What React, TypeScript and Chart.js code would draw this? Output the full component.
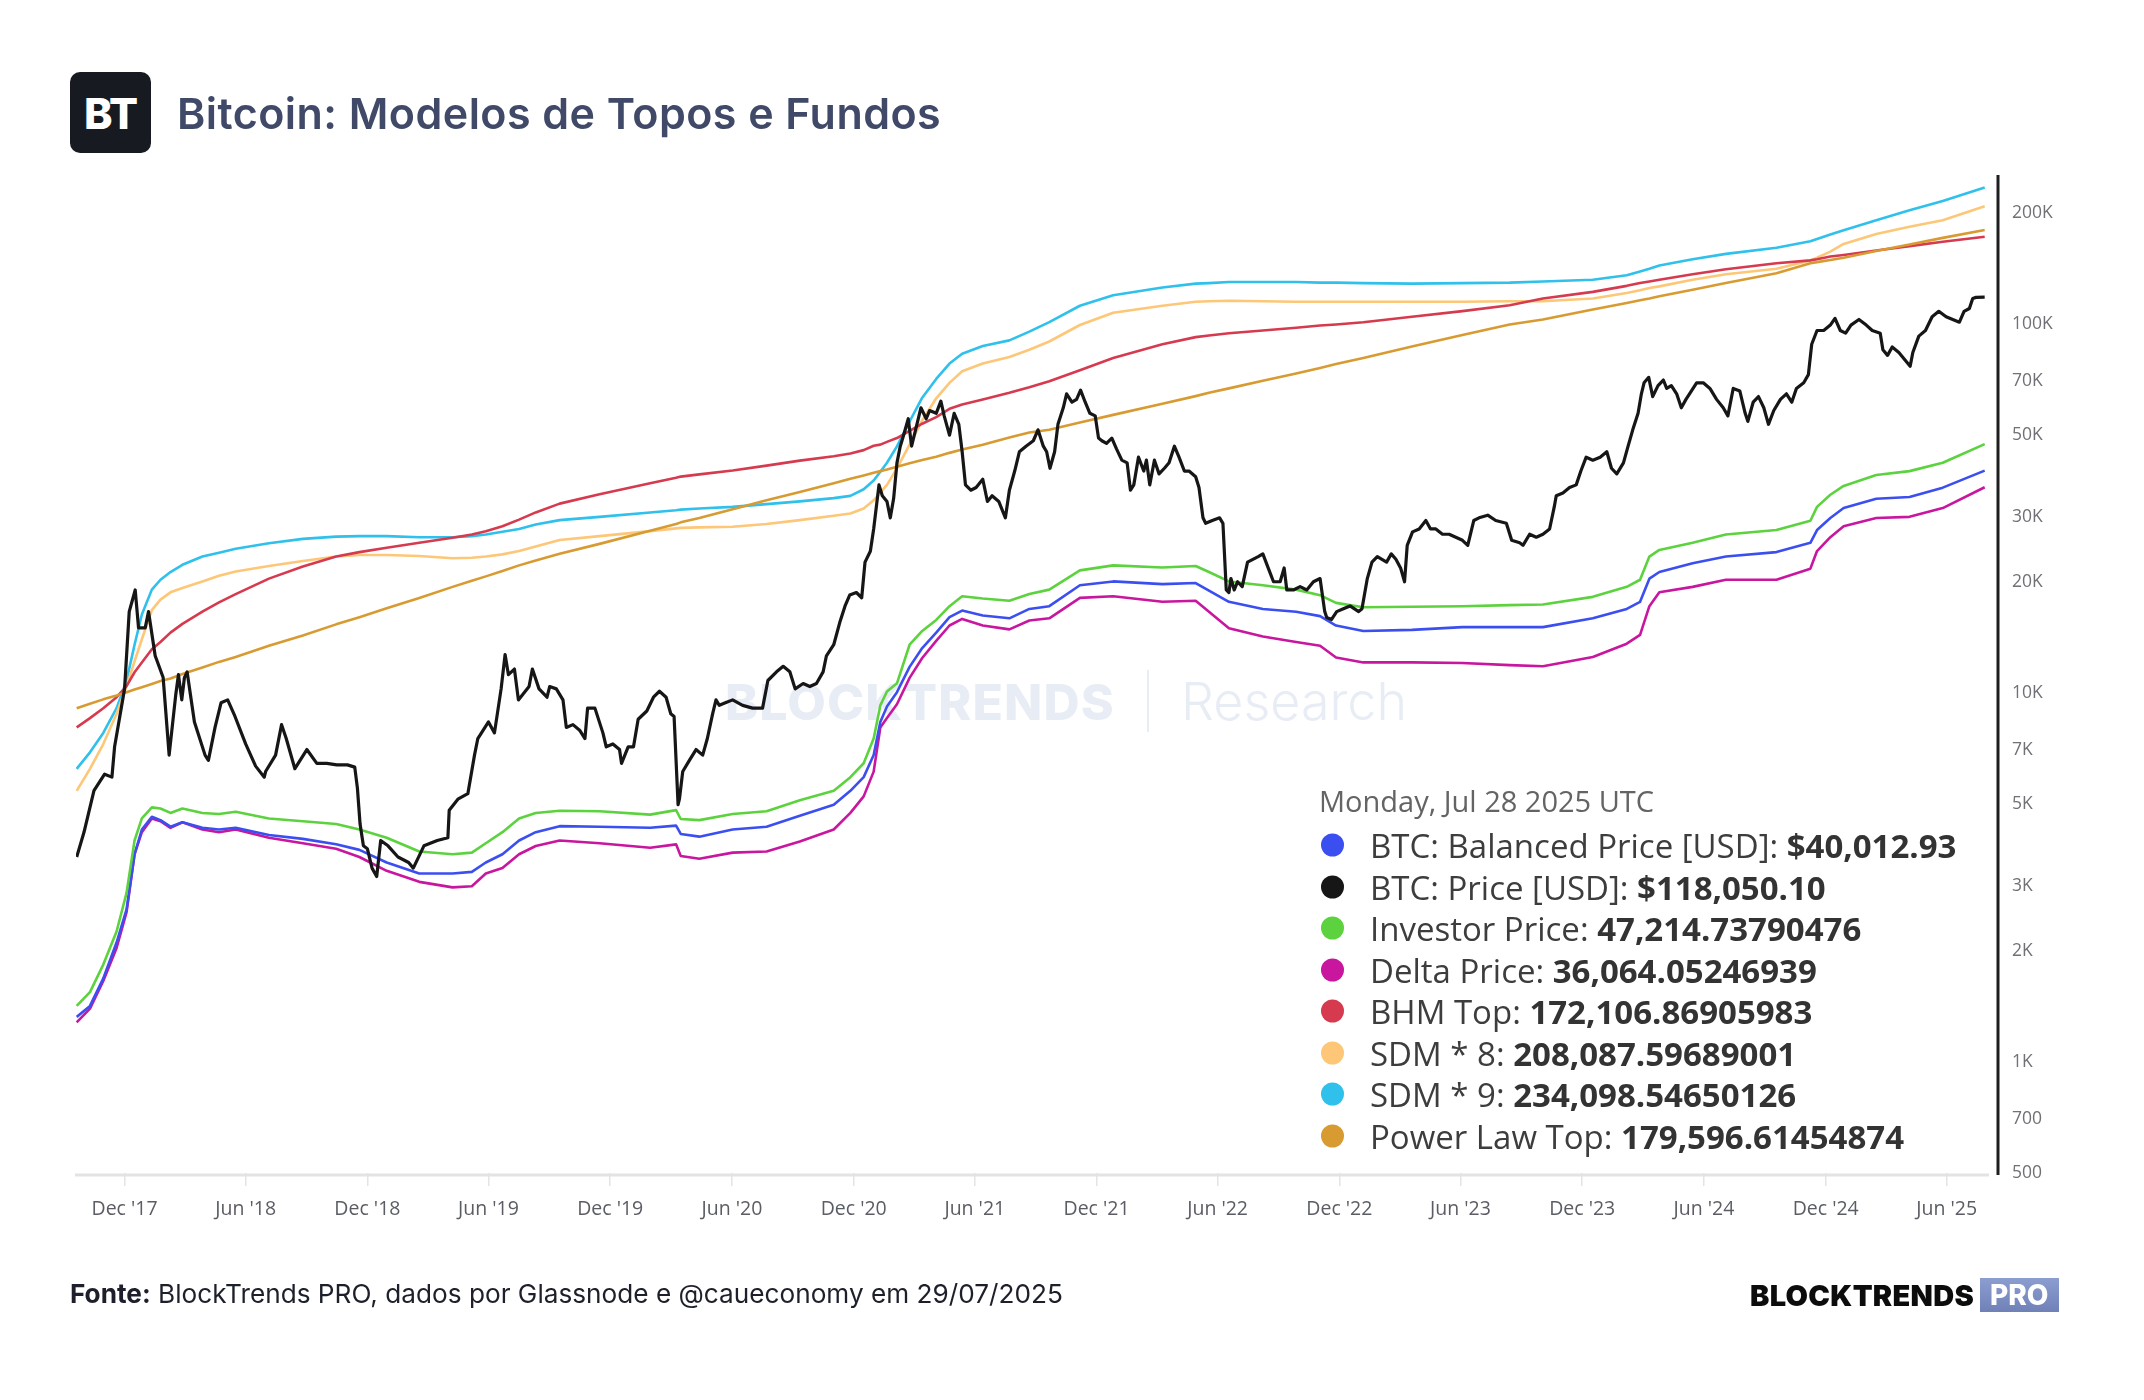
import React, { useEffect, useRef } from "react";
import { Chart, registerables } from "chart.js";

Chart.register(...registerables);

// ---------------- DATA ----------------
const btcPrice: [string, number][] = [
  ["2017-09-20", 3590], ["2017-10-01", 4190], ["2017-10-16", 5430], ["2017-11-01", 6020], ["2017-11-12", 5910],
  ["2017-11-16", 7140], ["2017-12-01", 10250], ["2017-12-08", 16600], ["2017-12-17", 19000], ["2017-12-22", 15000],
  ["2018-01-01", 15000], ["2018-01-06", 16600], ["2018-01-16", 12600], ["2018-01-28", 11000], ["2018-02-06", 6780],
  ["2018-02-16", 9900], ["2018-02-20", 11200], ["2018-02-25", 9570], ["2018-03-01", 11000], ["2018-03-05", 11400],
  ["2018-03-16", 8340], ["2018-04-01", 6780], ["2018-04-06", 6560], ["2018-04-16", 8060], ["2018-04-25", 9400],
  ["2018-05-05", 9570], ["2018-05-16", 8630], ["2018-06-01", 7270], ["2018-06-16", 6330], ["2018-06-29", 5910],
  ["2018-07-01", 6120], ["2018-07-16", 6780], ["2018-07-25", 8200], ["2018-08-01", 7520], ["2018-08-14", 6230],
  ["2018-09-01", 7020], ["2018-09-16", 6440], ["2018-10-01", 6440], ["2018-10-16", 6380], ["2018-11-01", 6380],
  ["2018-11-12", 6290], ["2018-11-16", 5520], ["2018-11-20", 4410], ["2018-11-25", 3850], ["2018-12-01", 3780],
  ["2018-12-08", 3350], ["2018-12-15", 3180], ["2018-12-21", 3980], ["2019-01-01", 3850], ["2019-01-16", 3590],
  ["2019-02-01", 3470], ["2019-02-08", 3350], ["2019-02-24", 3850], ["2019-03-16", 3980], ["2019-04-01", 4050],
  ["2019-04-03", 4810], ["2019-04-16", 5150], ["2019-05-01", 5330], ["2019-05-11", 6780], ["2019-05-16", 7520],
  ["2019-06-01", 8340], ["2019-06-10", 7790], ["2019-06-20", 10250], ["2019-06-26", 12700], ["2019-07-01", 11200],
  ["2019-07-10", 11600], ["2019-07-16", 9570], ["2019-08-01", 10400], ["2019-08-06", 11600], ["2019-08-16", 10250],
  ["2019-08-28", 9730], ["2019-09-01", 10400], ["2019-09-11", 10250], ["2019-09-21", 9570], ["2019-09-26", 8060],
  ["2019-10-06", 8200], ["2019-10-16", 7920], ["2019-10-24", 7520], ["2019-10-28", 9090], ["2019-11-08", 9090],
  ["2019-11-20", 7790], ["2019-11-25", 7140], ["2019-12-05", 7270], ["2019-12-15", 7020], ["2019-12-18", 6440],
  ["2019-12-28", 7140], ["2020-01-05", 7140], ["2020-01-12", 8480], ["2020-01-25", 8930], ["2020-02-04", 9730],
  ["2020-02-13", 10100], ["2020-02-23", 9730], ["2020-03-01", 8780], ["2020-03-06", 8630], ["2020-03-12", 4980],
  ["2020-03-14", 5150], ["2020-03-19", 6120], ["2020-03-29", 6560], ["2020-04-08", 7020], ["2020-04-18", 6780],
  ["2020-04-25", 7520], ["2020-05-03", 8780], ["2020-05-08", 9570], ["2020-05-13", 9250], ["2020-05-23", 9410],
  ["2020-06-02", 9570], ["2020-06-17", 9250], ["2020-07-02", 9090], ["2020-07-17", 9090], ["2020-07-25", 10800],
  ["2020-08-07", 11400], ["2020-08-17", 11800], ["2020-08-27", 11400], ["2020-09-04", 10250], ["2020-09-16", 10600],
  ["2020-09-26", 10400], ["2020-10-06", 10600], ["2020-10-16", 11400], ["2020-10-21", 12600], ["2020-11-01", 13500],
  ["2020-11-10", 15500], ["2020-11-18", 17200], ["2020-11-25", 18400], ["2020-12-05", 18700], ["2020-12-13", 18100],
  ["2020-12-18", 22600], ["2020-12-26", 24200], ["2020-12-31", 27800], ["2021-01-08", 36600], ["2021-01-13", 34200],
  ["2021-01-20", 33000], ["2021-01-25", 29800], ["2021-01-30", 33600], ["2021-02-04", 42000], ["2021-02-09", 46600],
  ["2021-02-14", 49900], ["2021-02-21", 55300], ["2021-02-26", 46600], ["2021-03-04", 51600], ["2021-03-12", 59200],
  ["2021-03-20", 55300], ["2021-03-25", 58200], ["2021-04-04", 57200], ["2021-04-11", 61700], ["2021-04-16", 56300],
  ["2021-04-24", 49900], ["2021-05-01", 57200], ["2021-05-08", 53400], ["2021-05-13", 45000], ["2021-05-18", 36600],
  ["2021-05-26", 35400], ["2021-06-03", 36000], ["2021-06-13", 37900], ["2021-06-20", 33000], ["2021-06-27", 34200],
  ["2021-07-07", 33000], ["2021-07-17", 29800], ["2021-07-23", 35400], ["2021-07-31", 39900], ["2021-08-07", 45000],
  ["2021-08-17", 46600], ["2021-08-28", 48200], ["2021-09-04", 51600], ["2021-09-12", 46600], ["2021-09-17", 45000],
  ["2021-09-22", 40600], ["2021-09-29", 45000], ["2021-10-04", 53400], ["2021-10-12", 59200], ["2021-10-17", 64600],
  ["2021-10-25", 61300], ["2021-11-01", 62400], ["2021-11-07", 66100], ["2021-11-14", 61300], ["2021-11-21", 57200],
  ["2021-11-29", 56300], ["2021-12-04", 49000], ["2021-12-09", 48200], ["2021-12-16", 47400], ["2021-12-24", 49000],
  ["2021-12-31", 45800], ["2022-01-08", 42700], ["2022-01-16", 42000], ["2022-01-21", 35400], ["2022-01-26", 36600],
  ["2022-02-02", 43500], ["2022-02-10", 39900], ["2022-02-14", 42700], ["2022-02-19", 36600], ["2022-02-26", 42700],
  ["2022-03-05", 39200], ["2022-03-13", 40600], ["2022-03-20", 42000], ["2022-03-28", 46600], ["2022-04-04", 43500],
  ["2022-04-12", 39900], ["2022-04-19", 39900], ["2022-04-29", 38500], ["2022-05-04", 36000], ["2022-05-10", 29800],
  ["2022-05-14", 28800], ["2022-05-24", 29300], ["2022-06-04", 29800], ["2022-06-09", 28800], ["2022-06-14", 19000],
  ["2022-06-18", 18700], ["2022-06-21", 20400], ["2022-06-26", 19000], ["2022-07-01", 20000], ["2022-07-08", 19400],
  ["2022-07-16", 22600], ["2022-07-24", 23000], ["2022-08-01", 23400], ["2022-08-08", 23800], ["2022-08-16", 21800],
  ["2022-08-24", 20000], ["2022-09-03", 20000], ["2022-09-09", 21800], ["2022-09-13", 19000], ["2022-09-23", 19000],
  ["2022-10-03", 19400], ["2022-10-13", 19000], ["2022-10-23", 20000], ["2022-11-02", 20400], ["2022-11-09", 16600],
  ["2022-11-12", 16000], ["2022-11-19", 15800], ["2022-11-27", 16600], ["2022-12-07", 16900], ["2022-12-17", 17200],
  ["2022-12-30", 16600], ["2023-01-04", 16900], ["2023-01-12", 20400], ["2023-01-19", 22600], ["2023-01-27", 23400],
  ["2023-02-03", 23000], ["2023-02-10", 22600], ["2023-02-17", 23800], ["2023-02-24", 23000], ["2023-03-03", 21800],
  ["2023-03-09", 20000], ["2023-03-13", 25100], ["2023-03-21", 27300], ["2023-03-31", 27800], ["2023-04-10", 29300],
  ["2023-04-17", 27800], ["2023-04-25", 27800], ["2023-05-05", 26900], ["2023-05-15", 26900], ["2023-05-25", 26400],
  ["2023-06-04", 25900], ["2023-06-12", 25100], ["2023-06-21", 29300], ["2023-06-29", 29800], ["2023-07-12", 30300],
  ["2023-07-24", 29300], ["2023-08-09", 28800], ["2023-08-17", 25900], ["2023-08-29", 25500], ["2023-09-03", 25100],
  ["2023-09-13", 26900], ["2023-09-23", 26400], ["2023-10-03", 26900], ["2023-10-13", 27800], ["2023-10-20", 31900],
  ["2023-10-23", 34200], ["2023-11-02", 34800], ["2023-11-12", 36000], ["2023-11-22", 36600], ["2023-11-29", 39900],
  ["2023-12-07", 43500], ["2023-12-17", 42700], ["2023-12-28", 43500], ["2024-01-07", 45000], ["2024-01-14", 40600],
  ["2024-01-22", 39200], ["2024-02-01", 42000], ["2024-02-08", 46600], ["2024-02-15", 51600], ["2024-02-23", 57200],
  ["2024-02-28", 64600], ["2024-03-03", 69200], ["2024-03-10", 71600], ["2024-03-16", 63500], ["2024-03-24", 68000],
  ["2024-04-01", 70400], ["2024-04-06", 66800], ["2024-04-13", 68000], ["2024-04-21", 64600], ["2024-04-28", 59200],
  ["2024-05-05", 62400], ["2024-05-13", 65700], ["2024-05-21", 69200], ["2024-05-31", 69200], ["2024-06-10", 66800],
  ["2024-06-20", 62400], ["2024-06-30", 59200], ["2024-07-07", 56300], ["2024-07-15", 66800], ["2024-07-25", 65700],
  ["2024-08-02", 57200], ["2024-08-06", 54400], ["2024-08-14", 61300], ["2024-08-22", 63500], ["2024-08-30", 59200],
  ["2024-09-06", 53400], ["2024-09-14", 58200], ["2024-09-24", 62400], ["2024-10-03", 64600], ["2024-10-11", 61300],
  ["2024-10-18", 66800], ["2024-10-29", 69200], ["2024-11-05", 72800], ["2024-11-10", 88000], ["2024-11-18", 95900],
  ["2024-11-28", 95900], ["2024-12-08", 99200], ["2024-12-15", 103400], ["2024-12-23", 95900], ["2024-12-31", 94300],
  ["2025-01-08", 99200], ["2025-01-20", 102700], ["2025-01-31", 99200], ["2025-02-09", 95900], ["2025-02-21", 94300],
  ["2025-02-25", 85000], ["2025-03-04", 82100], ["2025-03-11", 86500], ["2025-03-21", 83600], ["2025-04-07", 76700],
  ["2025-04-11", 83600], ["2025-04-20", 92600], ["2025-04-30", 95900], ["2025-05-10", 104500], ["2025-05-20", 108100],
  ["2025-05-31", 104500], ["2025-06-10", 102700], ["2025-06-20", 101000], ["2025-06-27", 108100], ["2025-07-05", 110000],
  ["2025-07-10", 117100], ["2025-07-15", 117900], ["2025-07-28", 118050.1],
];

const modelDates = [
  "2017-09-20", "2017-10-10", "2017-10-30", "2017-11-19", "2017-12-04", "2017-12-16", "2017-12-27", "2018-01-11",
  "2018-01-24", "2018-02-08", "2018-02-26", "2018-03-28", "2018-04-22", "2018-05-17", "2018-07-06", "2018-08-26",
  "2018-10-15", "2018-11-19", "2018-12-30", "2019-02-17", "2019-04-08", "2019-05-07", "2019-05-28", "2019-06-22",
  "2019-07-17", "2019-08-11",
  "2019-09-16", "2019-11-15", "2020-01-30", "2020-03-09", "2020-03-16", "2020-04-13", "2020-06-02", "2020-07-23",
  "2020-09-11", "2020-11-01", "2020-11-26", "2020-12-16", "2020-12-31", "2021-01-10", "2021-01-20", "2021-02-04",
  "2021-02-23", "2021-03-14", "2021-04-04", "2021-04-24", "2021-05-13", "2021-06-13", "2021-07-23", "2021-08-22",
  "2021-09-21", "2021-11-06", "2021-12-26", "2022-03-10", "2022-04-29", "2022-05-19", "2022-06-18", "2022-08-08",
  "2022-09-27", "2022-11-02", "2022-11-26", "2023-01-06", "2023-03-20", "2023-06-04", "2023-08-14",
  "2023-10-03", "2023-12-17", "2024-02-06", "2024-02-26", "2024-03-11", "2024-03-26", "2024-05-15", "2024-07-04",
  "2024-09-18", "2024-11-08", "2024-11-18", "2024-12-08", "2024-12-28", "2025-02-15", "2025-04-06", "2025-05-26",
  "2025-07-28",
];

const balancedPrice = [
  1324, 1418, 1684, 2106, 2590, 3653, 4263, 4615, 4520, 4338, 4459, 4308, 4263, 4308, 4119, 4021, 3886, 3754, 3470,
  3239, 3239, 3272, 3470, 3653, 3981, 4192,
  4353, 4338, 4308, 4368, 4147, 4077, 4263, 4338, 4647, 4977, 5426, 5910, 6785, 8340, 9182, 10040, 11760, 13220,
  14560, 16030, 16710, 16200, 15920, 16880,
  17170, 19570, 20040, 19710, 19840, 18910, 17650, 16880, 16590, 16140, 15220, 14710, 14810, 15070, 15070,
  15070, 15920, 16880, 17650, 20390, 21250, 22450, 23400, 24060, 25500, 27610, 29780, 31670, 33580, 33930, 35970,
  40012.93,
];

const investorPrice = [
  1418, 1546, 1835, 2256, 2871, 3981, 4567, 4893, 4860, 4727, 4860, 4727, 4694, 4760, 4567, 4489, 4412, 4263, 4049,
  3715, 3653, 3690, 3912, 4192, 4567, 4727,
  4793, 4777, 4678, 4810, 4551, 4520, 4694, 4777, 5117, 5426, 5910, 6445, 7521, 9246, 10080, 10610, 13500, 14710,
  15760, 17170, 18270, 18020, 17770, 18520,
  19040, 21470, 22150, 21850, 22070, 21250, 20040, 19570, 19040, 18390, 17530, 17050, 17110, 17170, 17290,
  17350, 18200, 19370, 20250, 23400, 24390, 25500, 26850, 27610, 29270, 31900, 34410, 36360, 38940, 39880, 42010,
  47214.73790476,
];

const deltaPrice = [
  1279, 1394, 1656, 2035, 2545, 3653, 4192, 4567, 4489, 4308, 4459, 4263, 4192, 4263, 4049, 3912, 3780, 3591, 3294,
  3075, 2971, 2992, 3239, 3352, 3653, 3846,
  3981, 3912, 3806, 3886, 3615, 3553, 3690, 3715, 3953, 4263, 4727, 5242, 6117, 8057, 8541, 9310, 10980, 12430,
  13830, 15220, 15860, 15220, 14860, 15700,
  15920, 18080, 18270, 17650, 17770, 16590, 14970, 14210, 13730, 13410, 12470, 12090, 12090, 12050, 11890,
  11800, 12510, 13590, 14360, 17170, 18720, 19370, 20250, 20250, 21700, 24220, 26410, 28280, 29780, 29980, 31670,
  36064.05246939,
];

const bhmTop = [
  8057, 8541, 9087, 9735, 10430, 11370, 12090, 13130, 13730, 14560, 15380, 16590, 17590, 18520, 20390, 22000, 23400,
  24060, 24730, 25500, 26310, 26850, 27420, 28280, 29470, 30820,
  32560, 34520, 36980, 38270, 38540, 39070, 40020, 41280, 42580, 43770, 44530, 45460, 46720, 47040, 47860, 49030,
  51270, 53610, 55870, 58830, 60470, 62370, 65010, 67280,
  69870, 74850, 80750, 87990, 92000, 92970, 94260, 95900, 97540, 98900, 99590, 101000, 104500, 108200, 112300,
  117100, 122000, 126700, 128900, 130200, 131600, 136200, 140500, 145900, 148500, 149500, 152100, 153600, 157900,
  162300, 166800, 172106.86905983,
];

const sdm8 = [
  5426, 6225, 7265, 8780, 10430, 12170, 13970, 16760, 17890, 18720, 19240, 20040, 20750, 21320, 22070, 22760, 23400,
  23640, 23640, 23480, 23160, 23240, 23400, 23720, 24220, 24900,
  25950, 26580, 27420, 27900, 27990, 28080, 28180, 28670, 29370, 30190, 30610, 31570, 33240, 34880, 36600, 40580,
  47040, 54730, 62810, 69150, 74330, 78030, 81310, 85030,
  89530, 99240, 107100, 111900, 114700, 115100, 115500, 115100, 114700, 114700, 114700, 114700, 114700, 114700, 115100,
  115100, 117100, 121200, 123300, 125000, 126300, 131600, 136200, 141000, 148500, 151000, 156800, 164600, 175100,
  183100, 190800, 208087.59689001,
];

const sdm9 = [
  6225, 6900, 7785, 9090, 10790, 13500, 16310, 19040, 20250, 21250, 22230, 23400, 23970, 24560, 25420, 26130, 26500,
  26580, 26580, 26410, 26410, 26580, 26850, 27320, 27800, 28570,
  29370, 29980, 30820, 31250, 31360, 31570, 31900, 32450, 33020, 33700, 34170, 35610, 37620, 39740, 42010, 46560,
  54360, 63040, 70870, 78030, 82990, 87090, 90150, 95240,
  101000, 111900, 119500, 125400, 128500, 128900, 129800, 129800, 129800, 129300, 129300, 128900, 128500, 128900, 129300,
  130200, 131600, 135300, 138600, 141000, 143900, 149500, 154700, 160700, 167400, 169800, 174500, 179300, 190800,
  203000, 215200, 234098.54650126,
];

const powerLawTop = [
  9087, 9342, 9601, 9836, 10040, 10210, 10360, 10570, 10760, 10940, 11250, 11720, 12130, 12510, 13410, 14310, 15330,
  16030, 16940, 18080, 19370, 20120, 20680, 21400, 22150, 22850,
  23810, 25330, 27510, 28670, 28970, 29780, 31460, 33240, 35000, 36980, 38010, 38810, 39470, 39880, 40300, 41000,
  41860, 42730, 43630, 44690, 45620, 47040, 49200, 50750,
  51630, 53980, 56640, 60680, 63680, 65010, 66830, 70110, 73320, 75890, 77760, 80750, 86790, 93280, 99590,
  102700, 109300, 113900, 115800, 117100, 118700, 123700, 128900, 137100, 145900, 146900, 148900, 151000, 157400,
  164000, 170900, 179596.61454874,
];

const xTickDates = [
  "2017-12-01", "2018-06-01", "2018-12-01", "2019-06-01", "2019-12-01", "2020-06-01", "2020-12-01", "2021-06-01",
  "2021-12-01", "2022-06-01", "2022-12-01", "2023-06-01", "2023-12-01", "2024-06-01", "2024-12-01", "2025-06-01",
];
const xTickLabels = [
  "Dec '17", "Jun '18", "Dec '18", "Jun '19", "Dec '19", "Jun '20", "Dec '20", "Jun '21",
  "Dec '21", "Jun '22", "Dec '22", "Jun '23", "Dec '23", "Jun '24", "Dec '24", "Jun '25",
];
const yTickValues = [500, 700, 1000, 2000, 3000, 5000, 7000, 10000, 20000, 30000, 50000, 70000, 100000, 200000];
const yTickLabels = ["500", "700", "1K", "2K", "3K", "5K", "7K", "10K", "20K", "30K", "50K", "70K", "100K", "200K"];

const xRange = ["2017-09-19", "2025-08-05"];
const yRange = [500, 253000];

const legendDate = "Monday, Jul 28 2025 UTC";
const chartTitle = "Bitcoin: Modelos de Topos e Fundos";

// ---------------- HELPERS ----------------
const toTs = (d: string) => Date.parse(d + "T00:00:00Z");
const zipModel = (vals: number[]) => modelDates.map((d, i) => [d, vals[i]] as [string, number]);

type Series = { label: string; color: string; points: [string, number][]; usd: boolean; width: number; order: number };

const SERIES: Series[] = [
  { label: "BTC: Balanced Price [USD]", color: "#3b4ff0", points: zipModel(balancedPrice), usd: true, width: 2.6, order: 3 },
  { label: "BTC: Price [USD]", color: "#161616", points: btcPrice, usd: true, width: 3.2, order: 0 },
  { label: "Investor Price", color: "#5cd23e", points: zipModel(investorPrice), usd: false, width: 2.6, order: 2 },
  { label: "Delta Price", color: "#c8169f", points: zipModel(deltaPrice), usd: false, width: 2.6, order: 4 },
  { label: "BHM Top", color: "#d63a4e", points: zipModel(bhmTop), usd: false, width: 2.6, order: 5 },
  { label: "SDM * 8", color: "#fdc777", points: zipModel(sdm8), usd: false, width: 2.6, order: 6 },
  { label: "SDM * 9", color: "#2fc0eb", points: zipModel(sdm9), usd: false, width: 2.6, order: 7 },
  { label: "Power Law Top", color: "#d89b31", points: zipModel(powerLawTop), usd: false, width: 2.6, order: 1 },
];

const fmtValue = (s: Series) => {
  const v = s.points[s.points.length - 1][1];
  if (s.usd) return "$" + v.toLocaleString("en-US", { minimumFractionDigits: 2, maximumFractionDigits: 2 });
  return v.toLocaleString("en-US", { minimumFractionDigits: 8, maximumFractionDigits: 8 });
};

// ---------------- COMPONENT ----------------
export default function App() {
  const canvasRef = useRef<HTMLCanvasElement>(null);

  useEffect(() => {
    document.body.style.margin = "0";
    document.body.style.background = "#ffffff";
    const canvas = canvasRef.current;
    if (!canvas) return;

    const axisLines = {
      id: "axisLines",
      afterDraw(chart: any) {
        const { ctx, chartArea } = chart;
        ctx.save();
        ctx.strokeStyle = "#e3e3e3";
        ctx.lineWidth = 3;
        ctx.beginPath();
        ctx.moveTo(chartArea.left - 1, chartArea.bottom + 2);
        ctx.lineTo(chartArea.right - 1, chartArea.bottom + 2);
        ctx.stroke();
        ctx.strokeStyle = "#1e1e1e";
        ctx.lineWidth = 3;
        ctx.beginPath();
        ctx.moveTo(chartArea.right + 8, chartArea.top);
        ctx.lineTo(chartArea.right + 8, chartArea.bottom + 2);
        ctx.stroke();
        ctx.restore();
      },
    };

    const chart = new Chart(canvas, {
      type: "line",
      data: {
        datasets: SERIES.map((s) => ({
          label: s.label,
          data: s.points.map(([d, v]) => ({ x: toTs(d), y: v })),
          borderColor: s.color,
          backgroundColor: s.color,
          borderWidth: s.width,
          pointRadius: 0,
          tension: 0,
          fill: false,
          order: s.order,
          borderJoinStyle: "round" as const,
        })),
      },
      options: {
        responsive: false,
        animation: false,
        devicePixelRatio: 1,
        events: [],
        layout: { padding: { left: 76, top: 175, right: 0, bottom: 0 } },
        plugins: { legend: { display: false }, tooltip: { enabled: false } },
        scales: {
          x: {
            type: "linear",
            min: toTs(xRange[0]),
            max: toTs(xRange[1]),
            afterBuildTicks: (scale: any) => {
              scale.ticks = xTickDates.map((d) => ({ value: toTs(d) }));
            },
            afterFit: (scale: any) => {
              scale.height = 1400 - 1173;
            },
            ticks: {
              autoSkip: false,
              maxRotation: 0,
              padding: 12,
              color: "#5a5d63",
              font: { family: "'Open Sans', sans-serif", size: 19.5 },
              callback: (_v: any, i: number) => xTickLabels[i],
            },
            grid: { drawOnChartArea: false, drawTicks: true, tickLength: 13, color: "#e4e4e4", lineWidth: 1.5 },
            border: { display: false },
          },
          y: {
            type: "logarithmic",
            position: "right",
            min: yRange[0],
            max: yRange[1],
            afterBuildTicks: (scale: any) => {
              scale.ticks = yTickValues.map((v) => ({ value: v }));
            },
            afterFit: (scale: any) => {
              scale.width = 154;
            },
            ticks: {
              autoSkip: false,
              padding: 22,
              color: "#6f7176",
              font: { family: "'Open Sans', sans-serif", size: 17.5 },
              callback: (_v: any, i: number) => yTickLabels[i],
            },
            grid: { display: false, drawTicks: false },
            border: { display: false },
          },
        },
      },
      plugins: [axisLines],
    } as any);

    return () => chart.destroy();
  }, []);

  const legendTop = 800;
  const rowGap = 41.5;

  return (
    <div
      style={{
        position: "absolute",
        left: 0,
        top: 0,
        width: 2144,
        height: 1400,
        background: "#ffffff",
        overflow: "hidden",
        fontFamily: "Inter, 'Open Sans', sans-serif",
      }}
    >
      {/* watermark */}
      <div
        style={{
          position: "absolute",
          left: 725,
          top: 702,
          transform: "translateY(-50%)",
          fontFamily: "Inter, sans-serif",
          fontWeight: 800,
          fontSize: 50,
          color: "#e8edf5",
          letterSpacing: 1.1,
          lineHeight: 1,
        }}
      >
        BLOCKTRENDS
      </div>
      <div style={{ position: "absolute", left: 1147, top: 670, width: 2, height: 62, background: "#e8edf5" }} />
      <div
        style={{
          position: "absolute",
          left: 1181,
          top: 702,
          transform: "translateY(-50%)",
          fontFamily: "Inter, sans-serif",
          fontWeight: 300,
          fontSize: 52,
          color: "#e8edf5",
          lineHeight: 1,
        }}
      >
        Research
      </div>

      <canvas ref={canvasRef} width={2144} height={1400} style={{ position: "absolute", left: 0, top: 0 }} />

      {/* header */}
      <div
        style={{
          position: "absolute",
          left: 70,
          top: 72,
          width: 81,
          height: 81,
          borderRadius: 10,
          background: "#171a21",
          color: "#ffffff",
          display: "flex",
          alignItems: "center",
          justifyContent: "center",
          fontFamily: "Inter, sans-serif",
          fontWeight: 800,
          fontSize: 43,
          letterSpacing: -1,
        }}
      >
        BT
      </div>
      <div
        style={{
          position: "absolute",
          left: 177,
          top: 113,
          transform: "translateY(-50%)",
          fontFamily: "Inter, sans-serif",
          fontWeight: 600,
          fontSize: 43,
          letterSpacing: 0.45,
          color: "#404a68",
          whiteSpace: "nowrap",
          lineHeight: 1,
        }}
      >
        {chartTitle}
      </div>

      {/* legend */}
      <div
        style={{
          position: "absolute",
          left: 1319,
          top: legendTop,
          transform: "translateY(-50%)",
          fontFamily: "'Open Sans', sans-serif",
          fontSize: 29,
          color: "#646464",
          whiteSpace: "nowrap",
          lineHeight: 1,
        }}
      >
        {legendDate}
      </div>
      {SERIES.map((s, i) => (
        <div
          key={s.label}
          style={{
            position: "absolute",
            left: 1321,
            top: legendTop + 45 + i * rowGap,
            transform: "translateY(-50%)",
            display: "flex",
            alignItems: "center",
            whiteSpace: "nowrap",
            fontFamily: "'Open Sans', sans-serif",
            fontSize: 33,
            lineHeight: 1,
            color: "#3d3d3d",
          }}
        >
          <span
            style={{ width: 23, height: 23, borderRadius: "50%", background: s.color, display: "inline-block", marginRight: 26 }}
          />
          <span>{s.label}:&nbsp;</span>
          <span style={{ fontWeight: 700, color: "#333333" }}>{fmtValue(s)}</span>
        </div>
      ))}

      {/* footer */}
      <div
        style={{
          position: "absolute",
          left: 70,
          top: 1294,
          transform: "translateY(-50%)",
          fontFamily: "Inter, sans-serif",
          fontSize: 26.2,
          color: "#1d202a",
          whiteSpace: "nowrap",
          lineHeight: 1,
        }}
      >
        <span style={{ fontWeight: 700 }}>Fonte:</span> BlockTrends PRO, dados por Glassnode e @caueconomy em 29/07/2025
      </div>
      <div
        style={{
          position: "absolute",
          left: 1750,
          top: 1295,
          transform: "translateY(-50%)",
          display: "flex",
          alignItems: "center",
          whiteSpace: "nowrap",
        }}
      >
        <span
          style={{ fontFamily: "Inter, sans-serif", fontWeight: 900, fontSize: 29, color: "#0c0c0c", letterSpacing: 0.3, lineHeight: 1 }}
        >
          BLOCKTRENDS
        </span>
        <span
          style={{
            marginLeft: 6,
            padding: "3px 10px",
            background: "linear-gradient(#8c9dd0, #6f81b7)",
            color: "#ffffff",
            fontFamily: "Inter, sans-serif",
            fontWeight: 800,
            fontSize: 28,
            lineHeight: "28px",
          }}
        >
          PRO
        </span>
      </div>
    </div>
  );
}
